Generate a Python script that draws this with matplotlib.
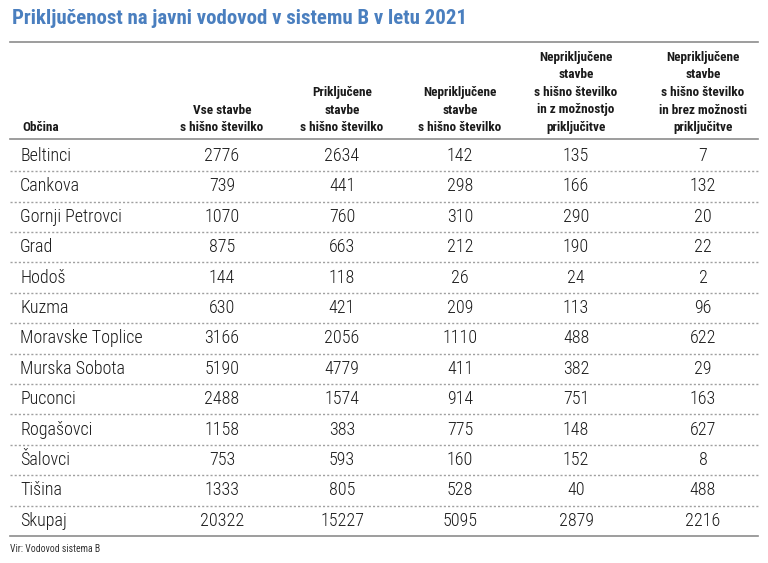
import matplotlib
matplotlib.use('Agg')
import matplotlib.pyplot as plt

body_font = ['Roboto Condensed', 'Liberation Sans Narrow', 'DejaVu Sans']
plt.rcParams['font.family'] = body_font

title = 'Priključenost na javni vodovod v sistemu B v letu 2021'
source = 'Vir: Vodovod sistema B'

headers = ['Občina',
           'Vse stavbe\ns hišno številko',
           'Priključene\nstavbe\ns hišno številko',
           'Nepriključene\nstavbe\ns hišno številko',
           'Nepriključene\nstavbe\ns hišno številko\nin z možnostjo\npriključitve',
           'Nepriključene\nstavbe\ns hišno številko\nin brez možnosti\npriključitve']

obcine = ['Beltinci', 'Cankova', 'Gornji Petrovci', 'Grad', 'Hodoš', 'Kuzma',
          'Moravske Toplice', 'Murska Sobota', 'Puconci', 'Rogašovci',
          'Šalovci', 'Tišina', 'Skupaj']
vse = [2776, 739, 1070, 875, 144, 630, 3166, 5190, 2488, 1158, 753, 1333, 20322]
prikljucene = [2634, 441, 760, 663, 118, 421, 2056, 4779, 1574, 383, 593, 805, 15227]
neprikljucene = [142, 298, 310, 212, 26, 209, 1110, 411, 914, 775, 160, 528, 5095]
z_moznostjo = [135, 166, 290, 190, 24, 113, 488, 382, 751, 148, 152, 40, 2879]
brez_moznosti = [7, 132, 20, 22, 2, 96, 622, 29, 163, 627, 8, 488, 2216]

columns = [vse, prikljucene, neprikljucene, z_moznostjo, brez_moznosti]

W, H = 768, 563
fig = plt.figure(figsize=(W / 100, H / 100), dpi=100)
ax = fig.add_axes([0, 0, 1, 1])
ax.set_xlim(0, W)
ax.set_ylim(H, 0)
ax.axis('off')

blue = '#4a7fbf'
line_col = '#8c8c8c'
txt_col = '#1a1a1a'
x_left, x_right = 10, 758
col_x = [222, 342, 460, 576, 703]

ax.text(12, 19, title, color=blue, fontsize=15, fontweight='bold',
        va='center', ha='left')
ax.plot([x_left, x_right], [42, 42], color=line_col, lw=1.2)

# header, last line of every header sits on the same baseline
base = 131
ax.text(22, base, headers[0], fontsize=9.5, fontweight='bold',
        va='baseline', ha='left', color=txt_col)
for x, h in zip(col_x, headers[1:]):
    ax.text(x, base, h, fontsize=9.5, fontweight='bold', va='baseline',
            ha='center', color=txt_col, linespacing=1.45)
ax.plot([x_left, x_right], [139, 139], color=line_col, lw=1.2)

# rows
y0 = 156
step = 30.4
for i, name in enumerate(obcine):
    y = y0 + i * step
    ax.text(20, y, name, fontsize=13, fontweight='light', va='center',
            ha='left', color=txt_col)
    for x, col in zip(col_x, columns):
        ax.text(x, y, str(col[i]), fontsize=13, fontweight='light',
                va='center', ha='center', color=txt_col)
    if i < len(obcine) - 1:
        ax.plot([x_left, x_right], [y + step / 2, y + step / 2],
                color='#a0a0a0', lw=1, ls=(0, (1.5, 1.5)))

ax.plot([x_left, x_right], [536, 536], color=line_col, lw=1.2)
ax.text(10, 549, source, fontsize=7, va='center', ha='left', color='#333333')

fig.savefig('out.png', dpi=100)
